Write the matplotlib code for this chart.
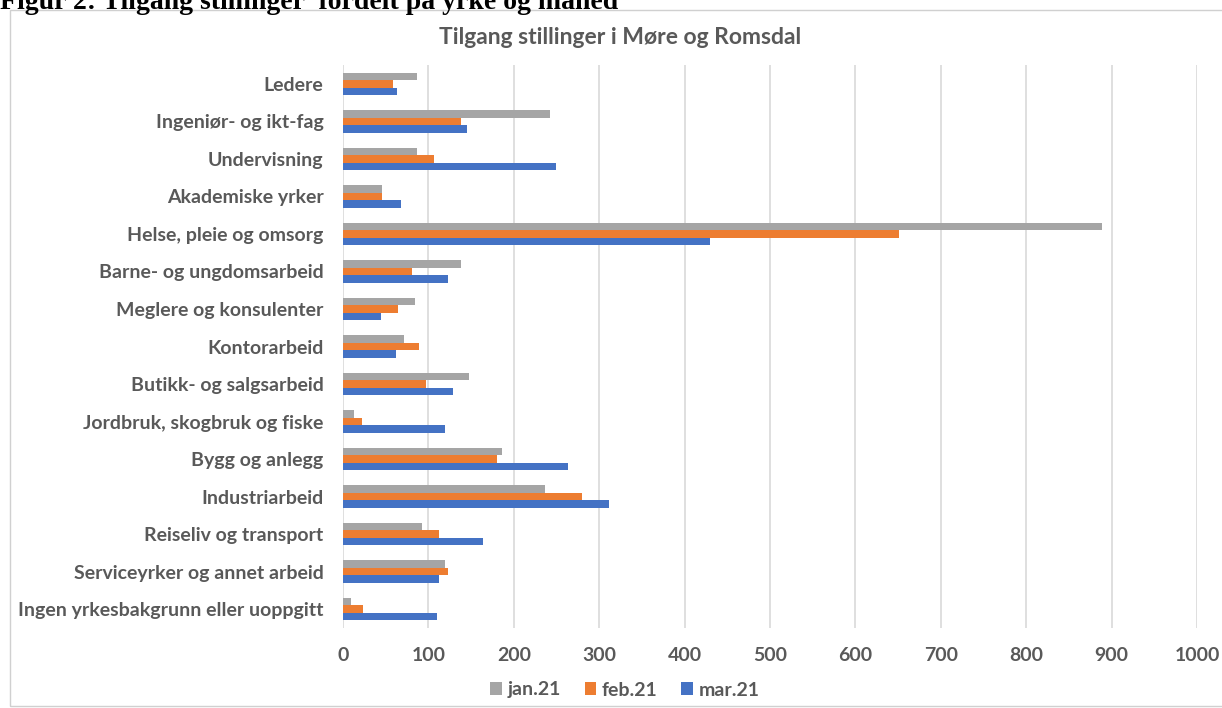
import matplotlib.pyplot as plt
import numpy as np
from matplotlib.patches import Rectangle

# data
categories = ["Ledere", "Ingeniør- og ikt-fag", "Undervisning", "Akademiske yrker",
              "Helse, pleie og omsorg", "Barne- og ungdomsarbeid",
              "Meglere og konsulenter", "Kontorarbeid", "Butikk- og salgsarbeid",
              "Jordbruk, skogbruk og fiske", "Bygg og anlegg", "Industriarbeid",
              "Reiseliv og transport", "Serviceyrker og annet arbeid",
              "Ingen yrkesbakgrunn eller uoppgitt"]
jan21 = [87, 242, 87, 46, 889, 138, 84, 71, 148, 13, 186, 237, 92, 120, 9]
feb21 = [58, 138, 106, 46, 651, 81, 64, 89, 97, 22, 180, 280, 112, 123, 24]
mar21 = [63, 145, 249, 68, 430, 123, 45, 62, 129, 120, 263, 311, 164, 112, 110]
series_names = ["jan.21", "feb.21", "mar.21"]
xticks = list(range(0, 1001, 100))

C_GRAY = "#A5A5A5"
C_ORANGE = "#ED7D31"
C_BLUE = "#4472C4"
C_TEXT = "#595959"
C_GRID = "#D9D9D9"
FONT = "Lato"

fig = plt.figure(figsize=(12.22, 7.08), dpi=100)
fig.patch.set_facecolor("white")

# outer chart frame
fig.patches.append(Rectangle((10 / 1222, 0.003), 1.0, 1 - 10 / 708 - 0.003,
                             transform=fig.transFigure, fill=False,
                             edgecolor="#D0D0D0", linewidth=1.0))

# document caption, cut off at the top like in the source
fig.text(0.0, 1 - 9 / 708, "Figur 2: Tilgang stillinger  fordelt på yrke og måned",
         fontsize=20, fontweight="bold", family="Liberation Serif",
         ha="left", va="baseline", color="black")

ax = fig.add_axes([343 / 1222, 1 - 628 / 708, (1197 - 343) / 1222, (628 - 65) / 708])

y = np.arange(len(categories))
h = 0.2
ax.barh(y - h, jan21, height=h, color=C_GRAY, label=series_names[0], zorder=3)
ax.barh(y, feb21, height=h, color=C_ORANGE, label=series_names[1], zorder=3)
ax.barh(y + h, mar21, height=h, color=C_BLUE, label=series_names[2], zorder=3)

ax.set_ylim(len(categories) - 0.5, -0.5)
ax.set_xlim(0, 1000)
ax.set_xticks(xticks)
ax.set_yticks(y)
ax.set_yticklabels(categories)
ax.xaxis.grid(True, color=C_GRID, linewidth=1.2, zorder=0)
ax.tick_params(axis="both", length=0, colors=C_TEXT)
ax.tick_params(axis="x", pad=14)
ax.tick_params(axis="y", pad=14)
for lab in ax.get_xticklabels():
    lab.set_fontsize(14)
    lab.set_fontweight("bold")
    lab.set_family(FONT)
for lab in ax.get_yticklabels():
    lab.set_fontsize(14)
    lab.set_fontweight("bold")
    lab.set_family(FONT)
for s in ax.spines.values():
    s.set_visible(False)

fig.text(620 / 1222, 1 - 37 / 708, "Tilgang stillinger i Møre og Romsdal",
         ha="center", va="center", fontsize=16.5, fontweight="bold",
         family=FONT, color=C_TEXT)

leg = fig.legend(loc="center", bbox_to_anchor=(625 / 1222, 1 - 690 / 708), ncol=3,
                 frameon=False, handlelength=0.6, handleheight=0.6,
                 handletextpad=0.3, columnspacing=1.2,
                 prop={"family": FONT, "weight": "bold", "size": 14})
for t in leg.get_texts():
    t.set_color(C_TEXT)

fig.savefig("out.png", dpi=100, facecolor="white")
